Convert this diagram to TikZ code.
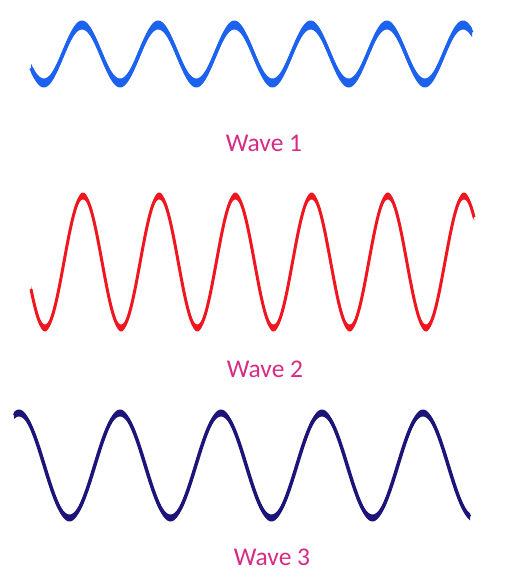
\documentclass[tikz,border=0pt]{standalone}
\usepackage{fontspec}
\setmainfont{Carlito}
\definecolor{waveblue}{RGB}{28,98,238}
\definecolor{wavered}{RGB}{240,22,32}
\definecolor{wavenavy}{RGB}{28,20,120}
\definecolor{labelpink}{RGB}{214,44,132}
\tikzset{
  wavelabel/.style={text=labelpink, font=\fontsize{25.5}{30}\selectfont, anchor=base, inner sep=0pt},
}
\begin{document}
\begin{tikzpicture}[x=1pt,y=-1pt]
\useasboundingbox[fill=white] (0,0) rectangle (523,587);
% Wave 1
\fill[waveblue] plot[domain=31:472,samples=400] (\x,{54-29*cos((\x-82)/76.2*360)-4.5})
  -- plot[domain=472:31,samples=400] (\x,{54-29*cos((\x-82)/76.2*360)+4.5}) -- cycle;
\draw[waveblue,line width=3.5pt] plot[domain=31:472,samples=400] (\x,{54-29*cos((\x-82)/76.2*360)});
% Wave 2
\fill[wavered] plot[domain=31:474,samples=500] (\x,{262-66*cos((\x-83)/76.2*360)-3.5})
  -- plot[domain=474:31,samples=500] (\x,{262-66*cos((\x-83)/76.2*360)+3.5}) -- cycle;
\draw[wavered,line width=3pt] plot[domain=31:474,samples=500] (\x,{262-66*cos((\x-83)/76.2*360)});
% Wave 3
\fill[wavenavy] plot[domain=14:470,samples=400] (\x,{465.5-52.5*cos((\x-120)/101*360)-3.5})
  -- plot[domain=470:14,samples=400] (\x,{465.5-52.5*cos((\x-120)/101*360)+3.5}) -- cycle;
\draw[wavenavy,line width=3.5pt] plot[domain=14:470,samples=400] (\x,{465.5-52.5*cos((\x-120)/101*360)});
% Labels
\node[wavelabel] (l1) at (264,151) {Wave 1};
\node[wavelabel] (l2) at (265,377) {Wave 2};
\node[wavelabel] (l3) at (272,565) {Wave 3};
\end{tikzpicture}
\end{document}
